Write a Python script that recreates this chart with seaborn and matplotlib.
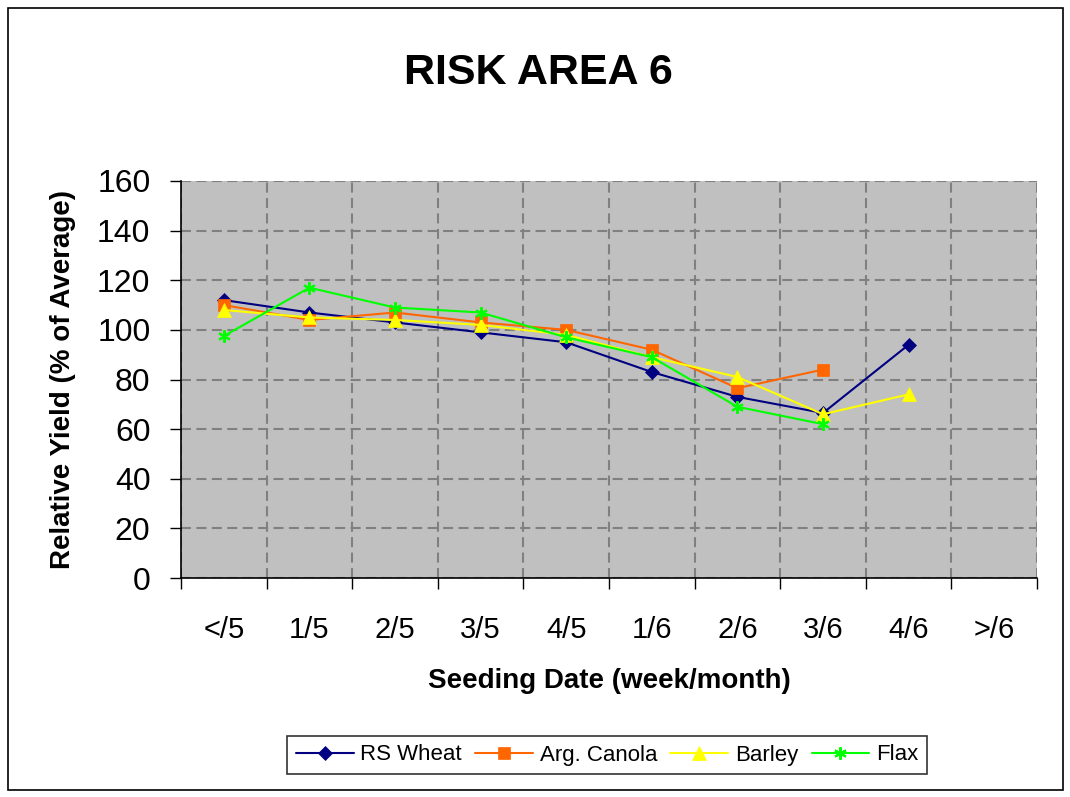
import numpy as np
import pandas as pd
import matplotlib
matplotlib.use("Agg")
import matplotlib.pyplot as plt
import seaborn as sns
from matplotlib.patches import Rectangle

categories = ["</5", "1/5", "2/5", "3/5", "4/5", "1/6", "2/6", "3/6", "4/6", ">/6"]
rs_wheat = [112, 107, 103, 99, 95, 83, 73, 66.5, 94, np.nan]
arg_canola = [110, 104, 107, 103, 100, 92, 76.5, 84, np.nan, np.nan]
barley = [108, 105, 104, 102, 98, 89, 81, 66, 74, np.nan]
flax = [97.5, 117, 109, 107, 97, 89, 69, 62, np.nan, np.nan]

series_names = ["RS Wheat", "Arg. Canola", "Barley", "Flax"]
series_vals = [rs_wheat, arg_canola, barley, flax]
colors = ["#000080", "#FF6600", "#FFFF00", "#00FF00"]
markers = ["D", "s", "^", (6, 2, 0)]
msizes = [7, 9, 10, 9]

rows = []
for name, vals in zip(series_names, series_vals):
    for i, v in enumerate(vals):
        rows.append({"series": name, "idx": i, "value": v})
df = pd.DataFrame(rows)

sns.set_theme(style="white")
plt.rcParams["font.family"] = ["Liberation Sans", "DejaVu Sans"]
for k in ["text.color", "axes.labelcolor", "xtick.color", "ytick.color"]:
    plt.rcParams[k] = "black"

fig = plt.figure(figsize=(10.7, 7.97), dpi=100)
ax = fig.add_axes([181 / 1070, 1 - 578 / 797, (1037 - 181) / 1070, (578 - 181) / 797])
ax.set_facecolor("#C0C0C0")

for name, col, mk, ms in zip(series_names, colors, markers, msizes):
    sub = df[(df["series"] == name)].dropna()
    sns.lineplot(data=sub, x="idx", y="value", ax=ax, color=col, marker=mk,
                 markersize=ms, markeredgecolor=col, markerfacecolor=col,
                 markeredgewidth=1.5 if name == "Flax" else 0.5,
                 linewidth=1.5, label=name, legend=False)

n = len(categories)
ax.set_xlim(-0.5, n - 0.5)
ax.set_ylim(0, 160)
ax.set_yticks(np.arange(0, 161, 20))
ax.set_xticks(np.arange(-0.5, n, 1.0))
ax.set_xticklabels([])
ax.set_xticks(np.arange(n), minor=True)
ax.set_xticklabels(categories, minor=True)
ax.tick_params(axis="x", which="major", direction="out", length=8, width=1, color="black", bottom=True)
ax.tick_params(axis="x", which="minor", length=0, pad=27, labelsize=21)
ax.tick_params(axis="y", which="major", direction="out", length=8, width=1, color="black", left=True, labelsize=23, pad=14)

ax.grid(True, which="major", axis="both", color="#808080", linestyle=(0, (4.8, 2.6)), linewidth=1.5)
ax.set_axisbelow(True)
for s in ["top", "right"]:
    ax.spines[s].set_visible(False)
for s in ["left", "bottom"]:
    ax.spines[s].set_color("black")
    ax.spines[s].set_linewidth(1.2)

ax.set_xlabel("Seeding Date (week/month)", fontsize=20, fontweight="bold")
ax.set_ylabel("Relative Yield (% of Average)", fontsize=20, fontweight="bold")
ax.xaxis.label.set_va("center")
ax.yaxis.label.set_va("center")
ax.xaxis.set_label_coords(0.5, (578 - 681) / 397)
ax.yaxis.set_label_coords((63 - 181) / 856, 0.5)
fig.text(538 / 1070, 1 - 73 / 797, "RISK AREA 6", fontsize=31, fontweight="bold", ha="center", va="center")

handles, labels = ax.get_legend_handles_labels()
leg = fig.legend(handles, labels, loc="center", bbox_to_anchor=(607 / 1070, 1 - 755 / 797),
                 ncol=4, frameon=True, fontsize=16, handlelength=2.6, columnspacing=0.6,
                 handletextpad=0.3, borderpad=0.4, borderaxespad=0, fancybox=False)
leg.get_frame().set_edgecolor("black")
leg.get_frame().set_linewidth(1.2)

fig.patches.append(Rectangle((8 / 1070, 1 - 790 / 797), 1055 / 1070, 782 / 797,
                             transform=fig.transFigure, fill=False, edgecolor="black", linewidth=1.2))

fig.savefig("out.png", dpi=100)
